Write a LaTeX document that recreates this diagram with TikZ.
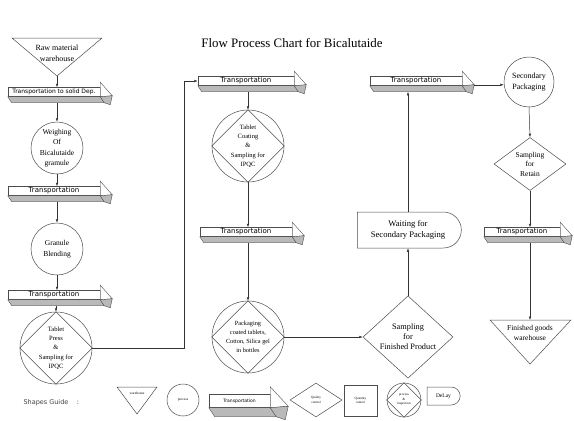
\documentclass[tikz,border=0pt]{standalone}
\usepackage{fontspec}
\setmainfont{Liberation Serif}
\newfontfamily\guidefont{DejaVu Sans}
\usetikzlibrary{arrows.meta,positioning,calc,shapes.geometric,shapes.misc}

% bevel and head of a 3D transport arrow: #1 node, #2 scale
\newcommand{\transpdeco}[2]{%
  \filldraw[draw=black!70,fill=gray!55] (#1.south west) -- ++(4*#2,6*#2) -- ($(#1.south east)+(4*#2,6*#2)$) -- (#1.south east) -- cycle;
  \filldraw[draw=black!70,fill=white] ($(#1.north east)+(0,-5*#2)$) -- ($(#1.south east)+(12*#2,-1*#2)$) -- (#1.south east) -- cycle;
  \filldraw[draw=black!70,fill=gray!55] (#1.south east) -- ++(12*#2,-1*#2) -- ++(-2*#2,9*#2) -- ++(-6*#2,-2*#2) -- cycle;
  \coordinate (#1b) at ($(#1.south)+(2*#2,6*#2)$);
  \coordinate (#1tip) at ($(#1.south east)+(12*#2,-1*#2)$);
}

\begin{document}
\begin{tikzpicture}[x=1pt,y=-1pt]
\tikzstyle{dline}=[draw=black!70,line width=0.5pt]
\tikzstyle{conn}=[draw=black!80,line width=0.5pt,-{Latex[length=3.5pt,width=2.6pt]}]
\tikzstyle{proc}=[circle,dline,fill=white,minimum size=52pt,inner sep=0pt,align=center,font=\fontsize{7.5}{10.5}\selectfont]
\tikzstyle{transp}=[rectangle,dline,fill=white,minimum height=9pt,inner sep=0pt,font=\guidefont\fontsize{7}{8}\selectfont]
\tikzstyle{qc}=[diamond,dline,fill=white,inner sep=0pt,align=center]
\tikzstyle{delay}=[rounded rectangle,rounded rectangle west arc=none,dline,fill=white,inner sep=0pt,align=center]
\useasboundingbox (0,0) rectangle (574,421);

\node[font=\fontsize{12.9}{15}\selectfont] (title) at (292,43) {Flow Process Chart for Bicalutaide};

% left column
\draw[dline] (12,38) -- (102,38) -- (57,76) -- cycle;
\node[align=center,font=\fontsize{8}{11}\selectfont] (raw) at (57,53) {Raw material\\warehouse};
\coordinate (rawtip) at (57,76);
\node[transp,minimum width=92pt,font=\guidefont\fontsize{6}{7}\selectfont] (t1) at (54,92) {Transportation to solid Dep.};
\transpdeco{t1}{1}
\node[proc] (weigh) at (57,148) {Weighing\\Of\\Bicalutaide\\gramule};
\node[transp,minimum width=92pt] (t2) at (54,191) {Transportation};
\transpdeco{t2}{1}
\node[proc] (blend) at (57,249) {Granule\\Blending};
\node[transp,minimum width=92pt] (t3) at (54,295) {Transportation};
\transpdeco{t3}{1}
\node[proc,minimum size=72pt,font=\fontsize{6.5}{9.3}\selectfont] (press) at (56,348) {Tablet\\Press\\\&\\Sampling for\\IPQC};
\draw[dline] (press.north) -- (press.east) -- (press.south) -- (press.west) -- cycle;

% middle column
\node[transp,minimum width=96pt] (t4) at (246,81) {Transportation};
\transpdeco{t4}{1}
\node[proc,minimum size=72pt,font=\fontsize{6.5}{9.3}\selectfont] (coat) at (248,146) {Tablet\\Coating\\\&\\Sampling for\\IPQC};
\draw[dline] (coat.north) -- (coat.east) -- (coat.south) -- (coat.west) -- cycle;
\node[transp,minimum width=92pt] (t5) at (246,232) {Transportation};
\transpdeco{t5}{1}
\node[proc,minimum size=72pt,font=\fontsize{6.3}{9}\selectfont] (pack) at (248,337) {Packaging\\coated tablets,\\Cotton, Silica gel\\in bottles};
\draw[dline] (pack.north) -- (pack.east) -- (pack.south) -- (pack.west) -- cycle;

% right part
\node[qc,minimum width=90pt,minimum height=54pt,font=\fontsize{8.3}{10}\selectfont] (sampfp) at (408,337) {Sampling\\for\\Finished Product};
\node[delay,minimum width=104pt,minimum height=36pt,font=\fontsize{8.6}{11}\selectfont] (wait) at (408,230) {Waiting for\\Secondary Packaging};
\node[transp,minimum width=92pt] (t6) at (416,81) {Transportation};
\transpdeco{t6}{1}
\node[proc,minimum size=50pt,font=\fontsize{8}{10.5}\selectfont] (sec) at (529,82) {Secondary\\Packaging};
\node[qc,minimum width=72pt,minimum height=48pt,font=\fontsize{7.5}{9.5}\selectfont] (retain) at (530,164) {Sampling\\for\\Retain};
\node[transp,minimum width=76pt] (t7) at (522,232) {Transportation};
\transpdeco{t7}{1}
\draw[dline] (490,320) -- (571,320) -- (530,364) -- cycle;
\coordinate (fgtop) at (530,320);
\node[align=center,font=\fontsize{7.5}{10}\selectfont] (fg) at (530,333) {Finished goods\\warehouse};

% connectors
\draw[conn] (rawtip) -- (rawtip |- t1.north);
\draw[conn] (t1b -| weigh) -- (weigh.north);
\draw[conn] (weigh.south) -- (weigh.south |- t2.north);
\draw[conn] (t2b -| blend) -- (blend.north);
\draw[conn] (blend.south) -- (blend.south |- t3.north);
\draw[conn] (t3b -| press) -- (press.north);
\draw[conn] (press.east) -- ++(92,0) |- (t4.west);
\draw[conn] (t4b -| coat) -- (coat.north);
\draw[conn] (coat.south) -- (coat.south |- t5.north);
\draw[conn] (t5b -| pack) -- (pack.north);
\draw[conn] (pack.east) -- (sampfp.west);
\draw[conn] (sampfp.north) -- (wait.south);
\draw[conn] (wait.north) -- (wait.north |- t6b);
\draw[conn] (t6tip) -- (t6tip -| sec.west);
\draw[conn] (sec.south) -- (retain.north);
\draw[conn] (retain.south) -- (retain.south |- t7.north);
\draw[conn] (t7b -| fgtop) -- (fgtop);

% shapes guide
\node[anchor=west,font=\guidefont\fontsize{6.5}{8}\selectfont,text=black!75] (guide) at (20,403) {Shapes Guide\quad\ :};
\draw[dline] (117,387) -- (157,387) -- (137,414) -- cycle;
\node[font=\fontsize{3.5}{4}\selectfont] (gware) at (137,393) {warehouse};
\node[proc,minimum size=32pt,font=\fontsize{3.5}{4}\selectfont] (gproc) at (183,400) {process};
\node[transp,minimum width=61pt,minimum height=13pt,font=\guidefont\fontsize{4.5}{5}\selectfont] (gtrans) at (239.5,401) {Transportation};
\transpdeco{gtrans}{1.5}
\node[qc,minimum width=52pt,minimum height=34pt,font=\fontsize{3.3}{4.5}\selectfont] (gqual) at (316,400) {Quality\\control};
\node[rectangle,dline,minimum width=33pt,minimum height=31pt,align=center,inner sep=0pt,font=\fontsize{3.3}{4.5}\selectfont] (gquant) at (360.5,400.5) {Quantity\\control};
\node[proc,minimum size=34pt,font=\fontsize{3.3}{4.5}\selectfont] (gpi) at (404,400) {process\\\&\\inspection};
\draw[dline] (gpi.north) -- (gpi.east) -- (gpi.south) -- (gpi.west) -- cycle;
\node[delay,minimum width=33pt,minimum height=18pt,font=\fontsize{5.5}{6}\selectfont] (gdelay) at (443.5,396) {DeLay};
\end{tikzpicture}
\end{document}
